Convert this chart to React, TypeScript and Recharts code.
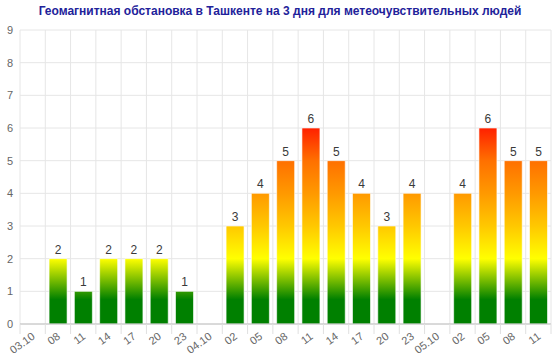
import React from "react";
import { BarChart, Bar, XAxis, YAxis, CartesianGrid, LabelList } from "recharts";

const categories = ["03.10", "08", "11", "14", "17", "20", "23", "04.10", "02", "05", "08", "11", "14", "17", "20", "23", "05.10", "02", "05", "08", "11"];
const kpValues = [0, 2, 1, 2, 2, 2, 1, 0, 3, 4, 5, 6, 5, 4, 3, 4, 0, 4, 6, 5, 5];
const yTicks = [0, 1, 2, 3, 4, 5, 6, 7, 8, 9];
const title = "Геомагнитная обстановка в Ташкенте на 3 дня для метеочувствительных людей";

const data = categories.map((label, i) => ({ label, value: kpValues[i] }));

const W = 560;
const H = 355;
const M = { top: 30, right: 9, bottom: 0, left: 0 };
const Y_AXIS_W = 20;
const X_AXIS_H = 31;
const PLOT_LEFT = M.left + Y_AXIS_W;
const PLOT_W = W - PLOT_LEFT - M.right;
const PLOT_TOP = M.top;
const PLOT_BOTTOM = H - M.bottom - X_AXIS_H;
const BAND = PLOT_W / categories.length;
const FONT = "'Liberation Sans', Arial, Helvetica, sans-serif";

const XTick = (props: any) => {
  const { x, y, payload, index } = props;
  const left = x - BAND / 2;
  const right = x + BAND / 2;
  return (
    <g>
      <line x1={left} y1={y} x2={left} y2={y + 10} stroke="#e0e0e0" />
      {index === categories.length - 1 && (
        <line x1={right} y1={y} x2={right} y2={y + 10} stroke="#e0e0e0" />
      )}
      <text
        x={x + 3}
        y={y + 14}
        textAnchor="end"
        fontSize={11}
        fontFamily={FONT}
        fill="#666"
        transform={`rotate(-36, ${x + 3}, ${y + 14})`}
      >
        {payload.value}
      </text>
    </g>
  );
};

const YTick = (props: any) => {
  const { y, payload } = props;
  return (
    <text x={13} y={y} dy="0.35em" textAnchor="end" fontSize={11} fontFamily={FONT} fill="#666">
      {payload.value}
    </text>
  );
};

const renderLabel = (props: any) => {
  const { x, y, width, value } = props;
  if (!value) return null;
  return (
    <text x={x + width / 2} y={y - 5} textAnchor="middle" fontSize={12} fontFamily={FONT} fill="#3a3a3a">
      {value}
    </text>
  );
};

export default function App() {
  const vGen = () => {
    const pts: number[] = [];
    for (let i = 0; i <= categories.length; i++) pts.push(PLOT_LEFT + i * BAND);
    return pts;
  };
  return (
    <div style={{ position: "absolute", left: 0, top: 0, width: W, height: H, background: "#fff" }}>
      <div
        style={{
          position: "absolute",
          left: 0,
          top: 3,
          width: W,
          textAlign: "center",
          fontFamily: FONT,
          fontWeight: "bold",
          fontSize: 12,
          color: "#22229a",
          lineHeight: "16px",
        }}
      >
        {title}
      </div>
      <BarChart width={W} height={H} data={data} margin={M} barCategoryGap="15%">
        <defs>
          <linearGradient
            id="kpGrad"
            gradientUnits="userSpaceOnUse"
            x1="0"
            y1={PLOT_BOTTOM}
            x2="0"
            y2={PLOT_TOP}
          >
            <stop offset={0} stopColor="#008000" />
            <stop offset={0.75 / 9} stopColor="#008000" />
            <stop offset={2 / 9} stopColor="#ffff00" />
            <stop offset={3 / 9} stopColor="#ffc800" />
            <stop offset={4 / 9} stopColor="#ff9900" />
            <stop offset={5 / 9} stopColor="#ff7000" />
            <stop offset={6 / 9} stopColor="#ff2000" />
            <stop offset={1} stopColor="#ff0000" />
          </linearGradient>
        </defs>
        <CartesianGrid stroke="#e6e6e6" verticalCoordinatesGenerator={vGen} />
        <XAxis
          dataKey="label"
          height={X_AXIS_H}
          interval={0}
          tickLine={false}
          tickSize={0}
          tickMargin={0}
          axisLine={{ stroke: "#c0c0c0" }}
          tick={<XTick />}
        />
        <YAxis
          width={Y_AXIS_W}
          domain={[0, 9]}
          ticks={yTicks}
          interval={0}
          axisLine={false}
          tickLine={false}
          tick={<YTick />}
        />
        <Bar dataKey="value" fill="url(#kpGrad)" stroke="#ffffff" strokeOpacity={0.6} strokeWidth={1} isAnimationActive={false}>
          <LabelList dataKey="value" content={renderLabel} />
        </Bar>
      </BarChart>
    </div>
  );
}
